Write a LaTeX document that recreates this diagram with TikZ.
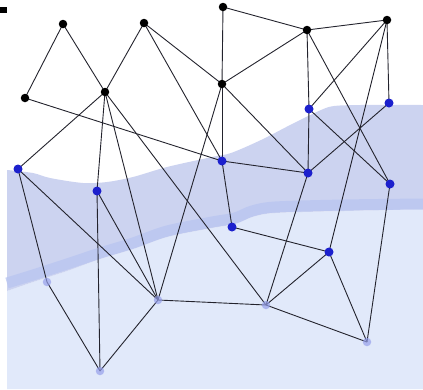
\documentclass[tikz,border=0pt]{standalone}
\usetikzlibrary{backgrounds}
\definecolor{bandcol}{RGB}{204,211,240}
\definecolor{lightcol}{RGB}{225,233,250}
\definecolor{stripecol}{RGB}{186,198,240}
\definecolor{darkblue}{RGB}{28,32,205}
\definecolor{paleblue}{RGB}{150,160,235}
\definecolor{edgecol}{RGB}{35,35,45}
\pgfdeclarelayer{edgelayer}
\pgfsetlayers{background,edgelayer,main}
\tikzset{
  blk/.style={circle,fill=black,inner sep=0pt,minimum size=8.5pt},
  blu/.style={circle,fill=darkblue,inner sep=0pt,minimum size=9pt},
  pal/.style={circle,fill=paleblue,fill opacity=0.7,inner sep=0pt,minimum size=8.5pt},
  edge/.style={draw=edgecol,line width=0.9pt}
}
\begin{document}
\begin{tikzpicture}[x=1pt,y=-1pt]
\useasboundingbox (0,0) rectangle (423,389);
% background regions
\begin{pgfonlayer}{background}
\fill[lightcol] plot[smooth] coordinates {(7,291) (33,282) (67,271) (100,259) (133,249) (167,237) (212,228) (235,224) (252,217) (275,213) (344,211) (423,209)} -- (423,389) -- (7,389) -- cycle;
\fill[bandcol] plot[smooth] coordinates {(7,170) (33,173) (50,178) (83,183) (107,182) (133,177) (167,167) (212,157) (231,153) (261,140) (294,123) (321,110) (334,106) (360,105) (423,105)}
  -- plot[smooth] coordinates {(423,209) (344,211) (275,213) (252,217) (235,224) (212,228) (167,237) (133,249) (100,259) (67,271) (33,282) (7,291)} -- cycle;
\draw[stripecol,line width=11pt,opacity=0.8] plot[smooth] coordinates {(7,283) (33,275) (67,264) (100,253) (133,243) (167,231) (212,222) (235,218) (252,211) (275,207) (344,205) (423,204)};
\fill[black] (0,7) rectangle (6.5,13);
\end{pgfonlayer}
% nodes
\node[blk] (A) at (63,24) {};
\node[blk] (B) at (144,23) {};
\node[blk] (C) at (25,98) {};
\node[blk] (D) at (105,92) {};
\node[blk] (E) at (223,7) {};
\node[blk] (F) at (307,30) {};
\node[blk] (G) at (387,20) {};
\node[blk] (H) at (222,84) {};
\node[blu] (I) at (18,169) {};
\node[blu] (J) at (97,191) {};
\node[blu] (K) at (309,109) {};
\node[blu] (L) at (389,103) {};
\node[blu] (M) at (222,161) {};
\node[blu] (N) at (308,173) {};
\node[blu] (O) at (390,184) {};
\node[blu] (P) at (232,227) {};
\node[blu] (Q) at (329,252) {};
\node[pal] (R) at (47,282) {};
\node[pal] (S) at (100,371) {};
\node[pal] (T) at (158,300) {};
\node[pal] (U) at (266,305) {};
\node[pal] (V) at (367,342) {};
% edges
\begin{pgfonlayer}{edgelayer}
\foreach \a/\b in {A/C,A/D,B/D,B/H,B/M,C/M,D/I,D/J,D/T,D/U,E/F,E/H,F/G,F/H,F/K,F/O,G/K,G/L,G/Q,H/M,H/N,H/T,K/N,K/O,L/N,M/N,M/P,N/U,O/V,P/Q,Q/U,Q/V,T/U,U/V,I/R,I/T,J/S,J/T,R/S,S/T}
  \draw[edge] (\a.center) -- (\b.center);
\end{pgfonlayer}
\end{tikzpicture}
\end{document}
